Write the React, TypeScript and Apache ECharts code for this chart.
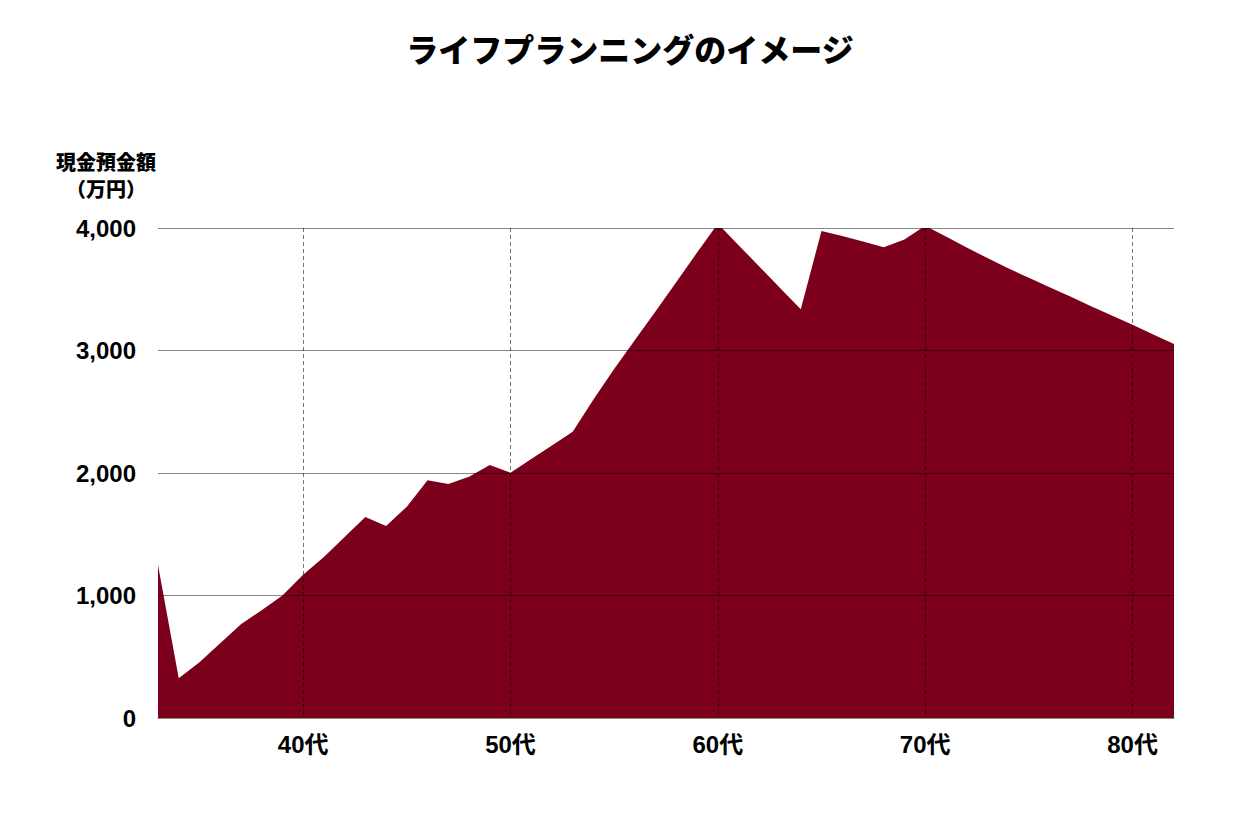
import React, { useEffect, useRef } from "react";
import * as echarts from "echarts";

const TITLE = "ライフプランニングのイメージ";
const Y_NAME_LINE1 = "現金預金額";
const Y_NAME_LINE2 = "（万円）";

const ages: number[] = [
  33, 34, 35, 36, 37, 38, 39, 40, 41, 42, 43, 44, 45, 46, 47, 48, 49, 50, 51, 52,
  53, 54, 55, 56, 57, 58, 59, 60, 61, 62, 63, 64, 65, 66, 67, 68, 69, 70, 71, 72,
  73, 74, 75, 76, 77, 78, 79, 80, 81, 82,
];

const cash: number[] = [
  1250, 325, 455, 610, 765, 880, 1000, 1170, 1315, 1478, 1640, 1567, 1725, 1940, 1910, 1970, 2065, 2003, 2115, 2225,
  2337, 2600, 2850, 3085, 3320, 3560, 3800, 4035, 3860, 3685, 3510, 3337, 3976, 3935, 3890, 3842, 3907, 4018, 3930, 3840,
  3755, 3671, 3594, 3517, 3440, 3362, 3285, 3210, 3130, 3053,
];

const yTicks = { min: 0, max: 4000, interval: 1000 };

const FONT = "'Liberation Sans', 'Noto Sans CJK JP', sans-serif";
const JP_FONT = "'Noto Sans CJK JP', sans-serif";

export default function App() {
  const ref = useRef<HTMLDivElement>(null);

  useEffect(() => {
    if (!ref.current) return;
    const chart = echarts.init(ref.current, undefined, { renderer: "svg" });
    const isDecade = (_i: number, v: string) => Number(v) % 10 === 0;
    chart.setOption({
      animation: false,
      backgroundColor: "#ffffff",
      title: {
        text: TITLE,
        left: "center",
        top: 27,
        textStyle: { fontSize: 32, fontWeight: 900, color: "#000", fontFamily: JP_FONT },
      },
      graphic: [
        {
          type: "text",
          x: 106,
          y: 161,
          style: {
            text: Y_NAME_LINE1,
            fontSize: 20,
            fontWeight: 900,
            fontFamily: JP_FONT,
            fill: "#000",
            align: "center",
            verticalAlign: "middle",
          },
        },
        {
          type: "text",
          x: 106,
          y: 188,
          style: {
            text: Y_NAME_LINE2,
            fontSize: 20,
            fontWeight: 900,
            fontFamily: JP_FONT,
            fill: "#000",
            align: "center",
            verticalAlign: "middle",
          },
        },
      ],
      grid: { left: 158, right: 86, top: 228, bottom: 122, containLabel: false },
      xAxis: {
        type: "category",
        data: ages.map(String),
        boundaryGap: false,
        z: 5,
        axisLine: { show: true, lineStyle: { color: "#888", width: 1 } },
        axisTick: { show: false },
        axisLabel: {
          interval: isDecade,
          formatter: (v: string) => `${v}代`,
          fontSize: 24,
          fontWeight: "bold",
          color: "#000",
          fontFamily: FONT,
          margin: 14,
        },
        splitLine: {
          show: true,
          interval: isDecade,
          lineStyle: { type: [4, 3], color: "rgba(0,0,0,0.55)", width: 1 },
        },
      },
      yAxis: {
        type: "value",
        min: yTicks.min,
        max: yTicks.max,
        interval: yTicks.interval,
        z: 5,
        axisLine: { show: false },
        axisTick: { show: false },
        axisLabel: {
          formatter: (v: number) => String(v).replace(/\B(?=(\d{3})+(?!\d))/g, ","),
          fontSize: 24,
          fontWeight: "bold",
          color: "#000",
          fontFamily: FONT,
          margin: 22,
        },
        splitLine: { show: true, lineStyle: { color: "rgba(0,0,0,0.47)", width: 1 } },
      },
      series: [
        {
          type: "line",
          data: cash,
          z: 1,
          showSymbol: false,
          symbol: "none",
          lineStyle: { width: 0 },
          areaStyle: { color: "#7c001b", opacity: 1 },
        },
      ],
    });
    return () => chart.dispose();
  }, []);

  return (
    <div
      ref={ref}
      style={{ position: "absolute", left: 0, top: 0, width: 1260, height: 840 }}
    />
  );
}
